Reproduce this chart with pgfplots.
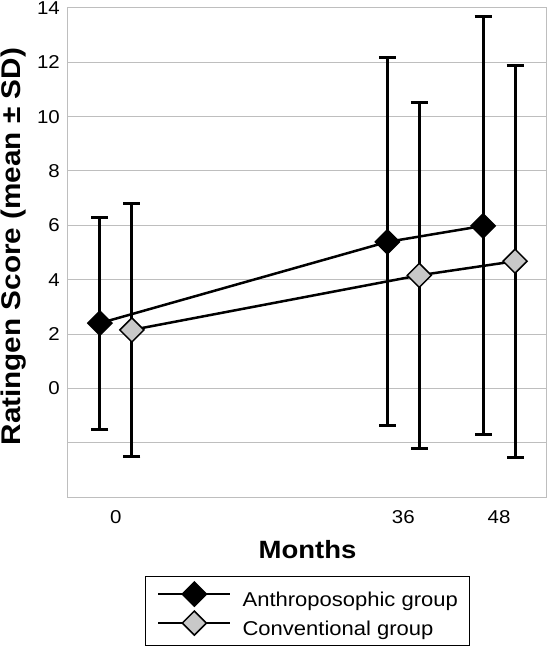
\documentclass[border=0pt]{standalone}
\usepackage{fontspec}
\setmainfont{Liberation Sans}[FakeStretch=1.1]
\usepackage{pgfplots}
\pgfplotsset{compat=1.18}
\definecolor{lgray}{RGB}{200,200,200}
\definecolor{framegray}{RGB}{190,190,190}
\begin{document}
\begin{tikzpicture}
\begin{axis}[
  at={(0,0)}, anchor=south west,
  scale only axis,
  width=479pt, height=489pt,
  xmin=-6, xmax=54, ymin=-4, ymax=14,
  xtick={0,36,48},
  ytick={-2,0,2,4,6,8,10,12,14},
  yticklabels={,0,2,4,6,8,10,12,14},
  major tick length=0pt,
  ymajorgrids,
  grid style={framegray, line width=1pt},
  axis line style={framegray, line width=1pt},
  /pgf/number format/assume math mode=true,
  ticklabel style={font=\fontsize{18.6}{20}\selectfont, inner sep=0pt},
  yticklabel style={xshift=-8pt},
  xticklabel style={yshift=-13pt},
  xlabel={Months},
  ylabel={Ratingen Score (mean ± SD)},
  xlabel style={font=\bfseries\fontsize{25}{28}\selectfont, inner sep=0pt, at={(axis description cs:0.5,-0.108)}, anchor=center},
  ylabel style={font=\bfseries\fontsize{27}{30}\selectfont, inner sep=0pt, at={(axis description cs:-0.113,0.512)}, anchor=center},
  legend style={at={(axis description cs:0.5,-0.1606)}, anchor=north, draw=black, line width=1pt,
    inner xsep=12pt, inner ysep=6pt, font=\fontsize{20}{22}\selectfont,
    nodes={inner sep=0pt, text height=14.5pt, text depth=4.5pt}, row sep=0.5pt,
    /tikz/every odd column/.style={column sep=11pt}},
  legend cell align=left,
  legend image code/.code={\draw[mark repeat=2, mark phase=2, #1] plot coordinates {(0pt,7pt) (36pt,7pt) (72pt,7pt)};},
]
\addplot[black, line width=2.5pt, mark=square*, mark size=8.5pt,
  mark options={rotate=45, fill=black, line width=1.5pt},
  error bars/.cd, y dir=both, y explicit,
  error bar style={line width=3pt, black},
  error mark options={rotate=90, line width=3pt, mark size=8.5pt, black}]
  coordinates {(-2,2.40) +- (0,3.90) (34,5.39) +- (0,6.77) (46,5.98) +- (0,7.69)};
\addlegendentry{Anthroposophic group}
\addplot[black, line width=2.5pt, mark=square*, mark size=8.5pt,
  mark options={rotate=45, fill=lgray, line width=1.5pt},
  error bars/.cd, y dir=both, y explicit,
  error bar style={line width=3pt, black},
  error mark options={rotate=90, line width=3pt, mark size=8.5pt, black}]
  coordinates {(2,2.15) +- (0,4.67) (38,4.16) +- (0,6.36) (50,4.68) +- (0,7.22)};
\addlegendentry{Conventional group}
\end{axis}
\pgfresetboundingbox
\path[use as bounding box] (-68pt,-154pt) rectangle (480pt,497pt);
\end{tikzpicture}
\end{document}
